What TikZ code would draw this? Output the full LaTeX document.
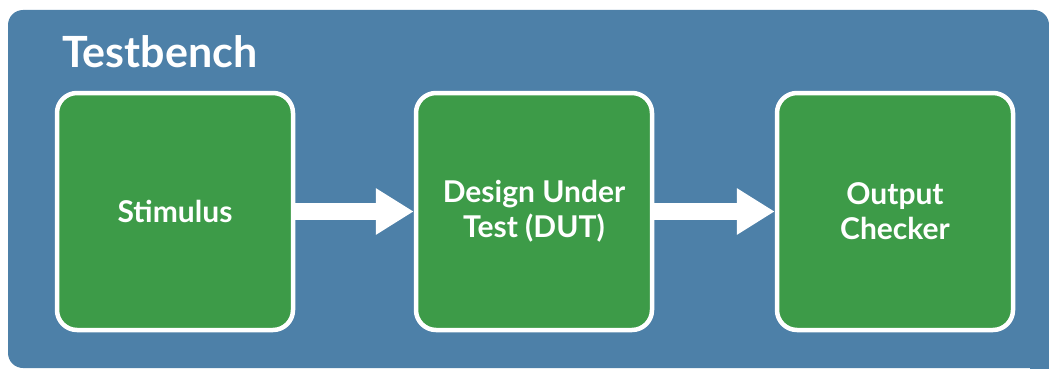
\documentclass[tikz,border=0pt]{standalone}
\usepackage{fontspec}
\setmainfont{Lato}
\usetikzlibrary{arrows.meta}
\definecolor{tbblue}{RGB}{77,128,168}
\definecolor{tbgreen}{RGB}{61,155,72}
\tikzset{
  block/.style={draw=white, line width=4.5pt, fill=tbgreen, rounded corners=20pt,
    minimum width=236pt, minimum height=237pt, inner sep=0pt,
    text=white, align=center, font=\bfseries\fontsize{30}{35}\selectfont},
  flow/.style={white, line width=17pt, -{Triangle[length=38pt,width=44pt]}},
  title/.style={text=white, font=\bfseries\fontsize{43}{50}\selectfont, inner sep=0pt}
}
\begin{document}
\begin{tikzpicture}[x=1pt,y=-1pt]
\useasboundingbox (0,0) rectangle (1049,369);
\fill[tbblue, rounded corners=15pt] (8,10) rectangle (1049,368);
\fill[tbblue] (1030,340) rectangle (1049,369);
\node[title, anchor=base west] (title) at (62,67) {Testbench};
\node[block] (stim) at (175,211.5) {Stimulus};
\node[block] (dut) at (534,211.5) {Design Under\\Test (DUT)};
\node[block] (chk) at (895,211.5) {Output\\Checker};
\draw[flow] (stim.east) -- (dut.west);
\draw[flow] (dut.east) -- (chk.west);
\end{tikzpicture}
\end{document}
